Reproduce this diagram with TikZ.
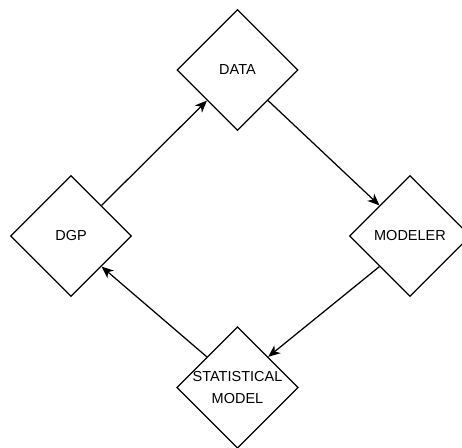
\documentclass[tikz,border=0pt]{standalone}
\usepackage{fontspec}
\setmainfont{Liberation Sans}
\usetikzlibrary{shapes.geometric,arrows.meta}
\begin{document}
\begin{tikzpicture}[x=1pt,y=-1pt,
  stage/.style={diamond,draw,line width=1.25pt,inner sep=0pt,aspect=1,
    minimum width=121pt,minimum height=121pt,align=center,
    font=\fontsize{14.5}{21.5}\selectfont},
  flow/.style={draw,line width=1.25pt,-{Stealth[length=12pt,width=10pt,inset=3.5pt]}}]
\useasboundingbox (0,0) rectangle (462,447);
\node[stage] (data) at (237.5,70) {DATA};
\node[stage] (dgp) at (71,236) {DGP};
\node[stage] (modeler) at (410,236) {MODELER};
\node[stage] (stat) at (237.5,387.5) {STATISTICAL\\MODEL};
\draw[flow] (dgp.north east) -- (data.south west);
\draw[flow] (data.south east) -- (modeler.north west);
\draw[flow] (modeler.south west) -- (stat.north east);
\draw[flow] (stat.north west) -- (dgp.south east);
\end{tikzpicture}
\end{document}
